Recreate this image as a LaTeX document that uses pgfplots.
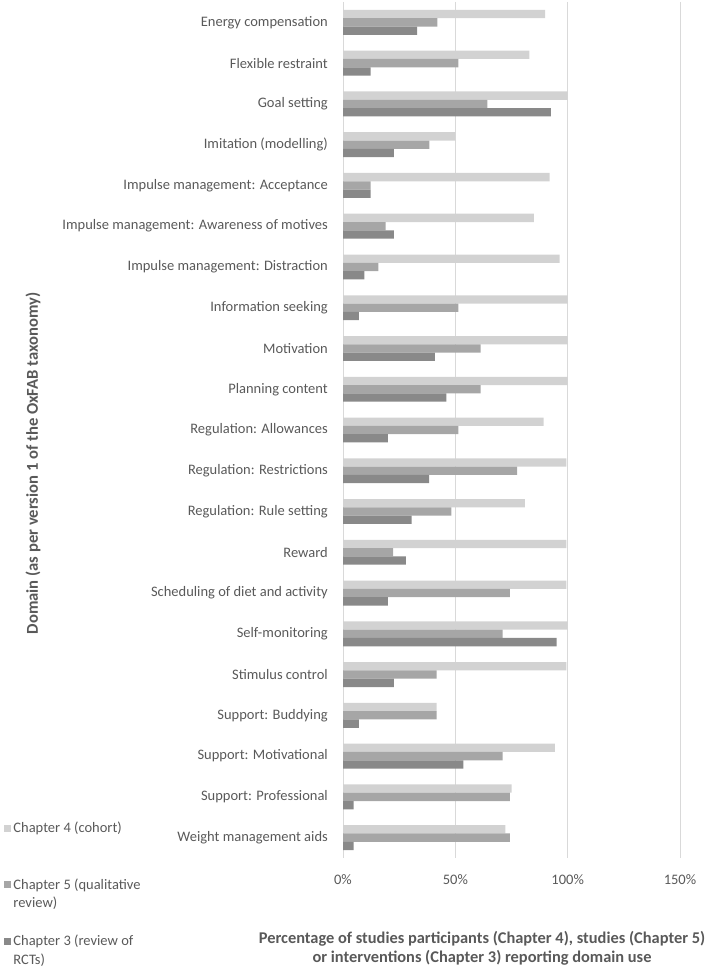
\documentclass[border=0pt]{standalone}
\usepackage{pgfplots}
\pgfplotsset{compat=1.18}
\usepackage{fontspec}
\setmainfont{Carlito}
\definecolor{cLight}{HTML}{D2D2D2}
\definecolor{cMid}{HTML}{A6A6A6}
\definecolor{cDark}{HTML}{898989}
\definecolor{gridc}{HTML}{D9D9D9}
\definecolor{txt}{HTML}{595959}
\begin{document}
\begin{tikzpicture}
\path[use as bounding box] (0,0) rectangle (709bp,971bp);
\begin{axis}[
  at={(343bp,113bp)}, anchor=south west,
  scale only axis,
  width=337bp, height=856bp,
  xbar=0pt, bar width=8.3bp,
  xmin=0, xmax=150,
  ymin=-0.5, ymax=20.5,
  y dir=reverse,
  xtick={0,50,100,150},
  xticklabels={0\%,50\%,100\%,150\%},
  ytick={0,...,20},
  yticklabels={Energy compensation,Flexible restraint,Goal setting,Imitation (modelling),Impulse management: Acceptance,Impulse management: Awareness of motives,Impulse management: Distraction,Information seeking,Motivation,Planning content,Regulation: Allowances,Regulation: Restrictions,Regulation: Rule setting,Reward,Scheduling of diet and activity,Self-monitoring,Stimulus control,Support: Buddying,Support: Motivational\ ,Support: Professional\ ,Weight management aids},
  major tick length=0pt,
  tick style={draw=none},
  axis line style={draw=none},
  xmajorgrids,
  grid style={color=gridc, line width=0.8bp},
  ticklabel style={font=\fontsize{14.5bp}{17bp}\selectfont, text=txt},
  yticklabel style={inner sep=0pt, xshift=-15bp},
  xticklabel style={inner sep=0pt, yshift=-16bp},
  xlabel={Percentage of studies participants (Chapter 4), studies (Chapter 5)\\or interventions (Chapter 3) reporting domain use},
  xlabel style={at={(axis description cs:0.4125,0)}, anchor=north, inner sep=0pt, yshift=-73bp, align=center, font=\bfseries\fontsize{16.4bp}{19.5bp}\selectfont, text=txt},
  ylabel={Domain (as per version 1 of the OxFAB taxonomy)},
  ylabel style={at={(axis description cs:-0.92,0.461)}, anchor=center, font=\bfseries\fontsize{16.6bp}{20bp}\selectfont, text=txt},
  legend style={at={(axis description cs:-1.014,0.0467)}, anchor=north west, draw=none, fill=none,
    font=\fontsize{14.5bp}{18.5bp}\selectfont, text=txt, row sep=22bp,
    cells={anchor=west, align=left}},
  legend cell align=left,
]
\addplot[fill=cLight, draw=none, bar shift=8.3bp, legend image code/.code={\path[fill=none,draw=none] (0bp,-13bp) rectangle (7bp,13bp);\fill[cLight] (0bp,5.9bp) rectangle (6.7bp,12.6bp);}] coordinates {
(90,0) (83,1) (100,2) (50,3) (92,4) (85,5) (96.4,6) (100,7) (100,8) (100,9) (89.3,10) (99.4,11) (81,12) (99.4,13) (99.4,14) (100,15) (99.4,16) (41.7,17) (94.3,18) (75,19) (72.3,20)};
\addplot[fill=cMid, draw=none, bar shift=0bp, legend image code/.code={\path[fill=none,draw=none] (0bp,-13bp) rectangle (7bp,13bp);\fill[cMid] (0bp,5.9bp) rectangle (6.7bp,12.6bp);}] coordinates {
(42,0) (51.4,1) (64.3,2) (38.5,3) (12.3,4) (19,5) (15.8,6) (51.4,7) (61.3,8) (61.3,9) (51.4,10) (77.5,11) (48.2,12) (22.3,13) (74.3,14) (71,15) (41.7,16) (41.7,17) (71,18) (74.3,19) (74.3,20)};
\addplot[fill=cDark, draw=none, bar shift=-8.3bp, legend image code/.code={\path[fill=none,draw=none] (0bp,-13bp) rectangle (7bp,13bp);\fill[cDark] (0bp,5.9bp) rectangle (6.7bp,12.6bp);}] coordinates {
(33,0) (12.3,1) (92.5,2) (22.7,3) (12.3,4) (22.7,5) (9.5,6) (7.1,7) (40.9,8) (46,9) (20,10) (38.3,11) (30.6,12) (28,13) (20,14) (95.1,15) (22.7,16) (7.1,17) (53.6,18) (4.7,19) (4.7,20)};
\legend{Chapter 4 (cohort)\\\strut,Chapter 5 (qualitative\\review)\strut,Chapter 3 (review of\\RCTs)\strut}
\end{axis}
\end{tikzpicture}
\end{document}
